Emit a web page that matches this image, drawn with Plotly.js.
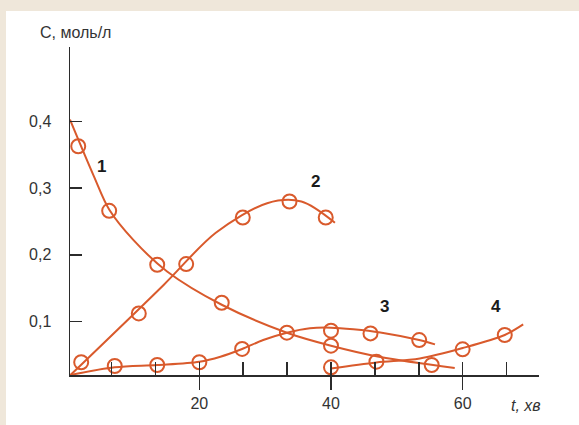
<!DOCTYPE html>
<html>
<head>
<meta charset="utf-8">
<script src="https://cdn.plot.ly/plotly-3.0.1.min.js"></script>
<style>
html,body{margin:0;padding:0;background:#efe7da;width:579px;height:425px;overflow:hidden;}
#chart{position:absolute;left:6px;top:11px;width:573px;height:414px;}
</style>
</head>
<body>
<div id="chart"></div>
<script>
// Curve 1 measured points and fitted curve
const t1 = [1.6, 6.3, 13.6, 23.4, 40.0, 55.3];
const c1 = [0.363, 0.266, 0.185, 0.128, 0.0635, 0.0345];
const t1Line = [0.35, 4.0, 6.3, 10.0, 15.1, 23.4, 33.3, 40.0, 47.5, 58.8];
const c1Line = [0.403, 0.3175, 0.268, 0.222, 0.175, 0.125, 0.083, 0.0635, 0.0465, 0.030];

// Curve 2
const t2 = [2.05, 10.8, 18.0, 26.6, 33.7, 39.2];
const c2 = [0.0386, 0.112, 0.186, 0.256, 0.280, 0.256];
const t2Line = [0.42, 14.5, 22.5, 30.3, 35.5, 40.6];
const c2Line = [0.0195, 0.154, 0.233, 0.2775, 0.280, 0.248];

// Curve 3
const t3 = [7.15, 13.6, 20.0, 26.5, 33.3, 40.0, 46.0, 53.4];
const c3 = [0.033, 0.0345, 0.0386, 0.0586, 0.083, 0.086, 0.082, 0.072];
const t3Line = [0.42, 7.15, 13.6, 20.0, 23.2, 26.5, 29.7, 33.3, 36.8, 40.0, 43.4, 47.5, 53.4, 55.8];
const c3Line = [0.0195, 0.031, 0.0345, 0.0395, 0.047, 0.0586, 0.072, 0.083, 0.0897, 0.0906, 0.0882, 0.0834, 0.072, 0.0655];

// Curve 4
const t4 = [40.0, 46.9, 60.0, 66.4];
const c4 = [0.031, 0.0395, 0.058, 0.0796];
const t4Line = [40.0, 46.9, 53.5, 60.0, 66.4, 69.2];
const c4Line = [0.0293, 0.0383, 0.0443, 0.060, 0.0796, 0.0954];

const xMajor = [20, 40, 60];
const yTicks = [0.1, 0.2, 0.3, 0.4];

const ORANGE = '#d95a2c';
const AX = '#2b2b2b';

function lineTrace(x, y) {
  return {x: x, y: y, type: 'scatter', mode: 'lines', hoverinfo: 'skip',
    line: {color: ORANGE, width: 2, shape: 'spline', smoothing: 0.9}};
}
function markTrace(x, y) {
  return {x: x, y: y, type: 'scatter', mode: 'markers', hoverinfo: 'skip',
    marker: {symbol: 'circle-open', size: 14, color: ORANGE, line: {width: 2, color: ORANGE}}};
}

const data = [
  lineTrace(t1Line, c1Line), markTrace(t1, c1),
  lineTrace(t2Line, c2Line), markTrace(t2, c2),
  lineTrace(t3Line, c3Line), markTrace(t3, c3),
  lineTrace(t4Line, c4Line), markTrace(t4, c4),
  {x: [], y: [], xaxis: 'x2', yaxis: 'y', type: 'scatter', showlegend: false}
];

const xRange = [0.35, 71.6];
const yRange = [0.0195, 0.512];
const lblFont = {family: 'Liberation Sans, Arial, sans-serif', size: 17, color: '#1a1a1a'};

const layout = {
  width: 573, height: 414,
  margin: {l: 64, r: 40, t: 36, b: 50},
  paper_bgcolor: '#ffffff', plot_bgcolor: '#ffffff',
  showlegend: false,
  separators: ', ',
  font: {family: 'Liberation Sans, Arial, sans-serif', size: 16, color: '#333'},
  xaxis: {
    range: xRange, showgrid: false, zeroline: false,
    showline: true, linecolor: AX, linewidth: 1.5,
    tickmode: 'array', tickvals: xMajor, ticks: 'outside', ticklen: 13,
    tickwidth: 1.5, tickcolor: AX, ticklabelstandoff: 0,
    tickfont: {size: 16, color: '#333'}
  },
  xaxis2: {
    range: xRange, overlaying: 'x', anchor: 'y', side: 'bottom',
    showgrid: false, zeroline: false, showline: false,
    tickmode: 'linear', tick0: 0, dtick: 20 / 3, ticks: 'inside', ticklen: 13,
    tickwidth: 1.5, tickcolor: AX, showticklabels: false
  },
  yaxis: {
    range: yRange, showgrid: false, zeroline: false,
    showline: true, linecolor: AX, linewidth: 1.5,
    tickmode: 'array', tickvals: yTicks, ticks: 'inside', ticklen: 12,
    tickwidth: 1.5, tickcolor: AX, ticklabelstandoff: 14,
    tickfont: {size: 16, color: '#333'}
  },
  annotations: [
    {text: 'C, моль/л', xref: 'paper', yref: 'paper', x: 0.0117, y: 1.043,
     xanchor: 'center', yanchor: 'middle', showarrow: false,
     font: {size: 16, color: '#333'}},
    {text: 't, хв', xref: 'paper', yref: 'paper', x: 0.972, y: -0.093,
     xanchor: 'center', yanchor: 'middle', showarrow: false,
     font: {size: 16, color: '#333', style: 'italic'}},
    {text: '<b>1</b>', x: 5.13, y: 0.333, showarrow: false, font: lblFont},
    {text: '<b>2</b>', x: 37.6, y: 0.3095, showarrow: false, font: lblFont},
    {text: '<b>3</b>', x: 48.2, y: 0.122, showarrow: false, font: lblFont},
    {text: '<b>4</b>', x: 65.1, y: 0.122, showarrow: false, font: lblFont}
  ]
};

Plotly.newPlot('chart', data, layout, {staticPlot: true, displayModeBar: false});
</script>
</body>
</html>
